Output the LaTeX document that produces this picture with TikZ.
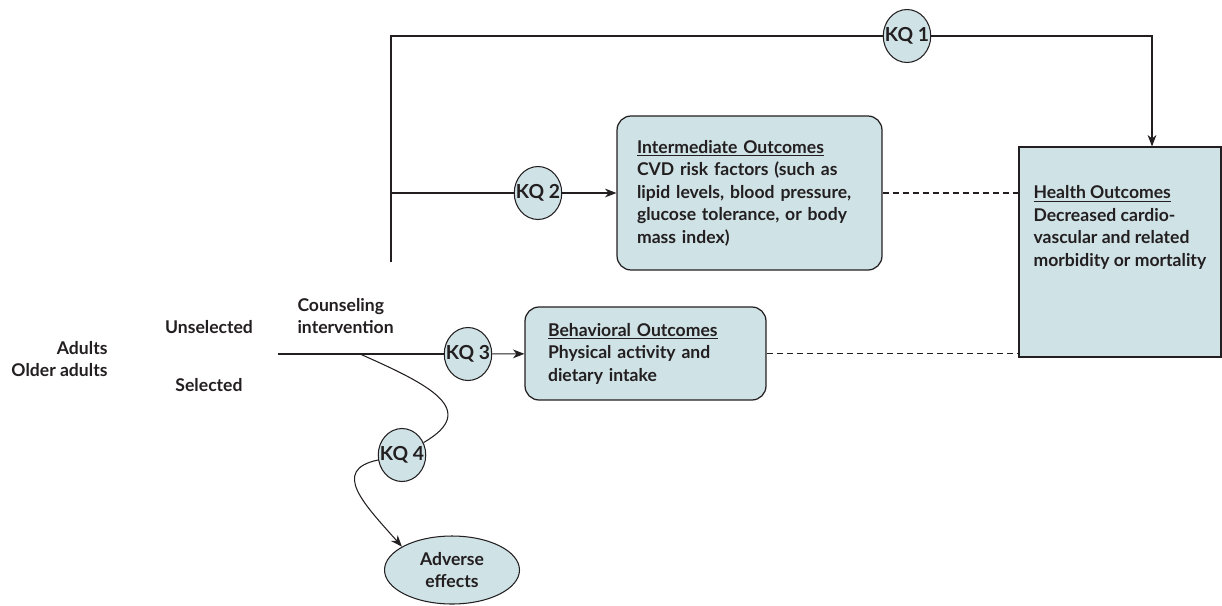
\documentclass[tikz,border=0pt]{standalone}
\usepackage{fontspec}
\setmainfont{Lato}
\usetikzlibrary{positioning,arrows.meta,calc,shapes.geometric}
\definecolor{boxfill}{RGB}{207,226,230}
\definecolor{ink}{RGB}{35,31,32}
\tikzset{
    on grid,
    outcome/.style = {
        draw,
        shape=rectangle,
        rounded corners=8pt,
        fill=boxfill,
        align=left,
        line width=0.7pt
    },
    kq/.style = {
        draw,
        shape=ellipse,
        fill=boxfill,
        minimum width=0.95cm,
        minimum height=1.06cm,
        inner sep=-3pt,
        font=\bfseries\fontsize{11}{13}\selectfont
    },
    harm/.style = {
        draw,
        shape=ellipse,
        fill=boxfill,
        align=center,
        minimum width=2.7cm,
        minimum height=1.36cm
    },
    txt/.style = {
        shape=rectangle,
        inner sep=0pt
    },
    >={Stealth[length=6.5pt, width=5pt, inset=2pt]},
}

\begin{document}
\begin{tikzpicture}[x=0.02cm, y=-0.02cm, color=ink, line width=0.6pt,
        font=\bfseries\fontsize{10}{12.8}\selectfont]
    \useasboundingbox (0,0) rectangle (1222,605);

    \node[txt, anchor=east, align=right] (adults) at (108,359) {Adults\\Older adults};
    \node[txt] (unsel) at (209,327) {Unselected};
    \node[txt, below=1.16cm of unsel] (sel) {Selected};
    \node[txt, anchor=west, align=left] (couns) at (297,316) {Counseling\\intervention};

    \coordinate (start) at (278,354);
    \coordinate (split) at (360,354);
    \node[kq] (kq3) at (468,354) {KQ 3};
    \node[outcome, text width=3.9cm, inner xsep=0.46cm, minimum height=1.86cm] (behav) at (645.5,353.5)
        {\underline{Behavioral Outcomes}\\Physical activity and\\dietary intake};

    \coordinate (vbot) at (391,262);
    \coordinate (vtop) at (391,36);
    \coordinate (branch) at (391,193);
    \node[kq] (kq2) at (538,193) {KQ 2};
    \node[outcome, text width=4.5cm, inner xsep=0.4cm, minimum height=3.08cm] (inter) at (749.5,193)
        {\underline{Intermediate Outcomes}\\CVD risk factors (such as\\lipid levels, blood pressure,\\glucose tolerance, or body\\mass index)};

    \node[kq] (kq1) at (907,36) {KQ 1};
    \coordinate (corner) at (1152,36);
    \node[outcome, sharp corners, minimum width=4.04cm, minimum height=4.2cm] (health) at (1120,252) {};
    \node[txt, anchor=north west, align=left] (healthtext) at (1033,185)
        {\underline{Health Outcomes}\\Decreased cardio-\\vascular and related\\morbidity or mortality};

    \node[kq] (kq4) at (402,455) {KQ 4};
    \node[harm] (adverse) at (452,570) {Adverse\\effects};

    \path[draw] (start) -- (kq3);
    \path[draw, ->] (kq3) -- (behav);
    \path[draw] (vbot) -- (vtop) -- (kq1);
    \path[draw, ->] (kq1) -- (corner) -- (corner |- health.north);
    \path[draw] (branch) -- (kq2);
    \path[draw, ->] (kq2) -- (inter);
    \path[draw, dash pattern=on 3.4pt off 2.3pt] (inter.east) -- (inter.east -| health.west);
    \path[draw, dash pattern=on 3.4pt off 2.3pt] (behav.east) -- (behav.east -| health.west);
    \path[draw] (split) .. controls (430,385) and (480,410) .. (kq4);
    \path[draw, ->] (kq4) .. controls (330,470) and (365,505) .. (adverse.155);
\end{tikzpicture}
\end{document}
